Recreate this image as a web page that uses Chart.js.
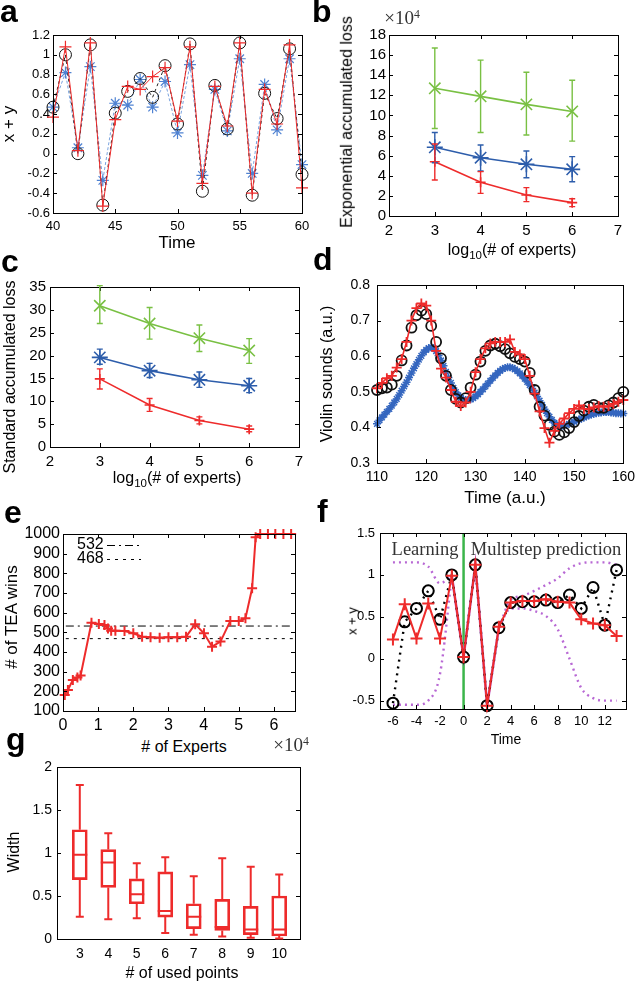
<!DOCTYPE html>
<html><head><meta charset="utf-8">
<script src="https://cdn.jsdelivr.net/npm/chart.js@4.4.1/dist/chart.umd.min.js"></script>
<style>
html,body{margin:0;padding:0;background:#fff}
body{width:640px;height:983px;position:relative;overflow:hidden;font-family:"Liberation Sans",Arial,Helvetica,sans-serif}
canvas{position:absolute}
.t{position:absolute;white-space:nowrap;line-height:1.15;color:#000}
.L{position:absolute;font-weight:bold;font-size:32px;line-height:1;color:#000}
.s{font-family:"Liberation Serif","Times New Roman",serif}
</style></head><body>
<script>
// ---------------- DATA ----------------
// Panel a
const aTime = [40,41,42,43,44,45,46,47,48,49,50,51,52,53,54,55,56,57,58,59,60];
const aTrue = [0.47,1.00,0.00,1.10,-0.52,0.41,0.63,0.76,0.57,0.89,0.30,1.11,-0.38,0.69,0.25,1.12,-0.42,0.61,0.355,1.06,-0.21];
const aTEA  = [0.37,1.08,0.03,1.12,-0.53,0.345,0.68,0.65,0.78,0.87,0.33,1.08,-0.30,0.68,0.28,1.12,-0.40,0.65,0.30,1.10,-0.345];
const aAlt  = [0.47,0.82,0.06,0.88,-0.27,0.51,0.49,0.75,0.47,0.73,0.21,0.90,-0.22,0.65,0.23,0.96,-0.20,0.70,0.24,0.96,-0.11];
// Panel b (x10^4)
const bLogExperts = [3,4,5,6];
const bGreen = [12.7,11.9,11.1,10.4], bGreenLo = [8.7,8.3,8.05,7.45], bGreenHi = [16.7,15.5,14.3,13.5];
const bBlue  = [6.83,5.8,5.14,4.64],  bBlueLo  = [5.3,4.47,3.81,3.41],  bBlueHi  = [8.3,7.06,6.46,5.9];
const bRed   = [5.4,3.35,2.09,1.33],  bRedLo   = [3.58,2.25,1.43,0.93], bRedHi   = [7.16,4.41,2.82,1.72];
// Panel c
const cLogExperts = [3,4,5,6];
const cGreen = [30.9,27.0,23.8,21.1], cGreenLo = [27.0,23.6,20.9,18.3], cGreenHi = [35.3,30.5,26.7,23.7];
const cBlue  = [19.6,16.7,14.7,13.4], cBlueLo  = [18.1,15.2,13.05,11.9], cBlueHi = [21.4,18.3,16.4,15.0];
const cRed   = [14.9,9.2,5.8,3.9],    cRedLo   = [12.7,7.8,5.05,3.35],   cRedHi  = [17.1,10.6,6.6,4.6];
// Panel d
const dTime = [110,111,112,113,114,115,116,117,118,119,120,121,122,123,124,125,126,127,128,129,130,131,132,133,134,135,136,137,138,139,140,141,142,143,144,145,146,147,148,149,150,151,152,153,154,155,156,157,158,159,160];
const dTrue = [0.505,0.510,0.512,0.520,0.545,0.588,0.630,0.680,0.715,0.728,0.718,0.685,0.640,0.594,0.545,0.505,0.480,0.470,0.482,0.512,0.548,0.585,0.615,0.630,0.635,0.628,0.620,0.608,0.598,0.592,0.585,0.553,0.505,0.458,0.433,0.407,0.388,0.379,0.386,0.398,0.415,0.432,0.447,0.458,0.463,0.455,0.455,0.462,0.470,0.482,0.500];
const dTEA  = [0.510,0.525,0.538,0.545,0.568,0.592,0.640,0.700,0.735,0.748,0.742,0.700,0.615,0.565,0.540,0.505,0.472,0.460,0.470,0.500,0.555,0.592,0.622,0.636,0.640,0.640,0.640,0.647,0.612,0.605,0.592,0.545,0.495,0.445,0.398,0.357,0.390,0.410,0.425,0.440,0.452,0.462,0.452,0.452,0.456,0.460,0.458,0.460,0.466,0.472,0.477];
const dTimeFine = [110,110.5,111,111.5,112,112.5,113,113.5,114,114.5,115,115.5,116,116.5,117,117.5,118,118.5,119,119.5,120,120.5,121,121.5,122,122.5,123,123.5,124,124.5,125,125.5,126,126.5,127,127.5,128,128.5,129,129.5,130,130.5,131,131.5,132,132.5,133,133.5,134,134.5,135,135.5,136,136.5,137,137.5,138,138.5,139,139.5,140,140.5,141,141.5,142,142.5,143,143.5,144,144.5,145,145.5,146,146.5,147,147.5,148,148.5,149,149.5,150,150.5,151,151.5,152,152.5,153,153.5,154,154.5,155,155.5,156,156.5,157,157.5,158,158.5,159,159.5,160];
const dAlt = [0.410,0.420,0.428,0.436,0.444,0.452,0.461,0.470,0.480,0.491,
0.503,0.515,0.527,0.540,0.553,0.566,0.578,0.590,0.601,0.611,
0.618,0.623,0.625,0.622,0.614,0.602,0.588,0.573,0.556,0.540,
0.525,0.511,0.499,0.490,0.483,0.479,0.477,0.477,0.479,0.482,
0.487,0.493,0.500,0.507,0.515,0.523,0.531,0.539,0.546,0.553,
0.559,0.564,0.567,0.569,0.569,0.567,0.563,0.558,0.552,0.545,
0.537,0.528,0.519,0.509,0.498,0.487,0.475,0.463,0.451,0.440,
0.430,0.421,0.413,0.407,0.404,0.403,0.404,0.407,0.410,0.413,
0.416,0.419,0.422,0.425,0.428,0.431,0.434,0.436,0.438,0.440,
0.441,0.442,0.443,0.443,0.443,0.442,0.441,0.440,0.440,0.439,
0.439];
// Panel e (# of experts in units of 10^4)
const eExperts = [0.05,0.14,0.28,0.41,0.50,0.81,1.02,1.18,1.28,1.37,1.49,1.75,2.0,2.25,2.49,2.75,3.0,3.25,3.5,3.76,4.01,4.24,4.48,4.76,5.0,5.19,5.38,5.48,5.61,5.83,6.04,6.27,6.49];
const eWins    = [181,207,258,270,280,549,542,537,520,508,508,507,495,478,475,473,475,475,478,541,495,427,453,558,558,571,724,983,1000,1000,1000,1000,1000];
const eRefValues = [532,468];
const eRefLabels = ['532','468'];
// Panel f
const fTime  = [-6,-5,-4,-3,-2,-1,0,1,2,3,4,5,6,7,8,9,10,11,12,13];
const fTrue  = [-0.53,0.44,0.60,0.81,0.47,1.00,0.02,1.12,-0.56,0.37,0.67,0.68,0.68,0.70,0.67,0.76,0.60,0.85,0.40,1.06];
const fPred  = [0.23,0.65,0.24,0.66,0.24,0.99,0.02,1.12,-0.56,0.38,0.67,0.69,0.69,0.71,0.68,0.67,0.47,0.42,0.40,0.27];
const fUpper = [1.15,1.15,1.15,1.10,0.90,0.99,0.02,1.12,-0.56,0.37,0.70,0.75,0.81,0.88,0.96,1.08,1.14,1.15,1.15,1.12];
const fLower = [-0.55,-0.55,-0.55,-0.50,-0.18,0.99,0.02,1.12,-0.56,0.37,0.60,0.60,0.57,0.51,0.35,0.00,-0.35,-0.47,-0.50,-0.50];
const fSplitTime = 0;
// Panel g
const gPoints  = [3,4,5,6,7,8,9,10];
const gWhiskHi = [1.79,1.23,0.88,0.95,0.73,0.94,0.84,0.75];
const gQ3      = [1.27,1.04,0.70,0.78,0.41,0.46,0.38,0.50];
const gMedian  = [0.98,0.89,0.52,0.325,0.26,0.14,0.11,0.11];
const gQ1      = [0.69,0.60,0.41,0.255,0.12,0.10,0.05,0.035];
const gWhiskLo = [0.26,0.23,0.24,0.07,0.05,0.03,0.015,0.005];

// ---------------- SETUP ----------------
Chart.defaults.font.family = '"Liberation Sans", Arial, Helvetica, sans-serif';
Chart.defaults.color = '#000';
Chart.defaults.animation = false;

const RED = '#ee2b2b', GREEN = '#79c043', BLUE = '#2d5dab';

const framePlugin = {
  id: 'frame',
  afterDatasetsDraw(chart, args, opts) {
    const ctx = chart.ctx, a = chart.chartArea;
    const len = opts.len == null ? 4 : opts.len;
    const xs = chart.scales.x, ys = chart.scales.y;
    ctx.save();
    ctx.strokeStyle = '#000'; ctx.lineWidth = 1;
    ctx.beginPath();
    if (opts.xTicks !== false) xs.ticks.forEach(t => {
      const p = Math.round(xs.getPixelForValue(t.value)) + 0.5;
      ctx.moveTo(p, a.bottom); ctx.lineTo(p, a.bottom - len);
      ctx.moveTo(p, a.top); ctx.lineTo(p, a.top + len);
    });
    if (opts.yTicks !== false) ys.ticks.forEach(t => {
      const p = Math.round(ys.getPixelForValue(t.value)) + 0.5;
      ctx.moveTo(a.left, p); ctx.lineTo(a.left + len, p);
      ctx.moveTo(a.right, p); ctx.lineTo(a.right - len, p);
    });
    ctx.stroke();
    ctx.strokeRect(Math.round(a.left) + 0.5, Math.round(a.top) + 0.5, Math.round(a.right - a.left), Math.round(a.bottom - a.top));
    ctx.restore();
  }
};
const errPlugin = {
  id: 'errbars',
  afterDatasetsDraw(chart) {
    const ctx = chart.ctx, ys = chart.scales.y;
    chart.data.datasets.forEach((ds, di) => {
      if (!ds.errLo) return;
      const meta = chart.getDatasetMeta(di);
      ctx.save(); ctx.strokeStyle = ds.borderColor; ctx.lineWidth = 1.4; ctx.beginPath();
      meta.data.forEach((pt, i) => {
        const x = pt.x, y1 = ys.getPixelForValue(ds.errLo[i]), y2 = ys.getPixelForValue(ds.errHi[i]);
        ctx.moveTo(x, y1); ctx.lineTo(x, y2);
        ctx.moveTo(x - 3, y1); ctx.lineTo(x + 3, y1);
        ctx.moveTo(x - 3, y2); ctx.lineTo(x + 3, y2);
      });
      ctx.stroke(); ctx.restore();
    });
  }
};
const boxPlugin = {
  id: 'boxwhisk',
  afterDatasetsDraw(chart) {
    const ctx = chart.ctx, ys = chart.scales.y;
    chart.data.datasets.forEach((ds, di) => {
      if (!ds.whiskHi) return;
      const meta = chart.getDatasetMeta(di);
      ctx.save(); ctx.strokeStyle = ds.borderColor; ctx.lineWidth = 2; ctx.beginPath();
      meta.data.forEach((bar, i) => {
        const x = bar.x, hw = bar.width / 2, cw = 4;
        const yq1 = ys.getPixelForValue(ds.q1[i]), yq3 = ys.getPixelForValue(ds.q3[i]);
        const yhi = ys.getPixelForValue(ds.whiskHi[i]), ylo = ys.getPixelForValue(ds.whiskLo[i]);
        const ym = ys.getPixelForValue(ds.med[i]);
        ctx.moveTo(x, yq3); ctx.lineTo(x, yhi); ctx.moveTo(x - cw, yhi); ctx.lineTo(x + cw, yhi);
        ctx.moveTo(x, yq1); ctx.lineTo(x, ylo); ctx.moveTo(x - cw, ylo); ctx.lineTo(x + cw, ylo);
        ctx.moveTo(x - hw, ym); ctx.lineTo(x + hw, ym);
      });
      ctx.stroke(); ctx.restore();
    });
  }
};
Chart.register(framePlugin, errPlugin, boxPlugin);

const fmt = v => String(+(+v).toFixed(3));
function axis(min, max, step, fs, pad, extra) {
  return Object.assign({
    type: 'linear', min, max,
    grid: { display: false, drawTicks: false }, border: { display: false },
    ticks: { stepSize: step, font: { size: fs }, padding: pad, color: '#000', maxRotation: 0, minRotation: 0, autoSkip: false, includeBounds: false, callback: fmt }
  }, extra || {});
}
function mk(box, config, frameOpts) {
  const pad = 16, yw = box.yw || 45, xh = 26;
  const c = document.createElement('canvas');
  const W = box.R - box.L + yw + pad, H = box.B - box.T + pad + xh;
  c.width = W; c.height = H;
  c.style.left = (box.L - yw) + 'px'; c.style.top = (box.T - pad) + 'px';
  c.style.width = W + 'px'; c.style.height = H + 'px';
  document.body.appendChild(c);
  const o = config.options;
  o.responsive = false; o.animation = false; o.maintainAspectRatio = false;
  o.layout = { padding: { top: pad, right: pad, left: 0, bottom: 0 } };
  o.scales.x.afterFit = s => { s.height = xh; };
  o.scales.y.afterFit = s => { s.width = yw; };
  o.plugins = Object.assign({ legend: { display: false }, tooltip: { enabled: false }, frame: frameOpts || {} }, o.plugins || {});
  return new Chart(c, config);
}
const pts = (xs, ys) => xs.map((x, i) => ({ x, y: ys[i] }));
function txt(html, cx, cy, size, rot, cls, color) {
  const d = document.createElement('div');
  d.className = 't' + (cls ? ' ' + cls : '');
  d.innerHTML = html;
  d.style.fontSize = size + 'px';
  d.style.left = cx + 'px'; d.style.top = cy + 'px';
  if (color) d.style.color = color;
  d.style.transform = 'translate(-50%,-50%)' + (rot ? ' rotate(-90deg)' : '');
  document.body.appendChild(d);
}
function letter(ch, x, baseline) {
  const d = document.createElement('div');
  d.className = 'L'; d.textContent = ch;
  d.style.left = x + 'px'; d.style.top = (baseline - 27.1) + 'px';
  document.body.appendChild(d);
}
const SUB10 = 'log<span style="font-size:0.72em;position:relative;top:0.35em">10</span>(# of experts)';
const X104 = '&times;10<span style="font-size:0.62em;position:relative;top:-0.55em">4</span>';

// ---------------- PANEL a ----------------
mk({ L: 53, T: 35, R: 302, B: 213, yw: 50 }, {
  type: 'line',
  data: { datasets: [
    { label: 'TEA', data: pts(aTime, aTEA), borderColor: RED, borderWidth: 1, pointStyle: 'cross', pointRadius: 6, pointBorderWidth: 1.2, pointBorderColor: RED, fill: false, tension: 0, order: 0, clip: false },
    { label: 'True', data: pts(aTime, aTrue), borderColor: '#222', borderWidth: 1, borderDash: [3, 3], pointStyle: 'circle', pointRadius: 6, pointBorderWidth: 1, pointBorderColor: '#111', pointBackgroundColor: 'rgba(0,0,0,0)', fill: false, tension: 0, order: 1, clip: false },
    { label: 'Other', data: pts(aTime, aAlt), borderColor: '#7aa3df', borderWidth: 1, borderDash: [3, 2], pointStyle: 'star', pointRadius: 6, pointBorderWidth: 1.2, pointBorderColor: '#4f82d2', fill: false, tension: 0, order: 2, clip: false }
  ] },
  options: { scales: { x: axis(40, 60, 5, 13, 6), y: axis(-0.6, 1.2, 0.2, 13, 3) } }
});
letter('a', 0, 22);
txt('Time', 177, 243, 17);
txt('x + y', 9, 124, 17, true);

// ---------------- PANEL b ----------------
function lossSets(xs, g, gl, gh, b, bl, bh, r, rl, rh) {
  return [
    { label: 'Green', data: pts(xs, g), errLo: gl, errHi: gh, borderColor: GREEN, borderWidth: 1.6, pointStyle: 'crossRot', pointRadius: 8, pointBorderWidth: 1.6, pointBorderColor: GREEN, tension: 0, clip: false },
    { label: 'Blue', data: pts(xs, b), errLo: bl, errHi: bh, borderColor: BLUE, borderWidth: 1.6, pointStyle: 'star', pointRadius: 8, pointBorderWidth: 1.6, pointBorderColor: BLUE, tension: 0, clip: false },
    { label: 'Red', data: pts(xs, r), errLo: rl, errHi: rh, borderColor: RED, borderWidth: 1.6, pointStyle: 'cross', pointRadius: 5, pointBorderWidth: 1.6, pointBorderColor: RED, tension: 0, clip: false }
  ];
}
mk({ L: 389, T: 35, R: 618, B: 216, yw: 40 }, {
  type: 'line',
  data: { datasets: lossSets(bLogExperts, bGreen, bGreenLo, bGreenHi, bBlue, bBlueLo, bBlueHi, bRed, bRedLo, bRedHi) },
  options: { scales: { x: axis(2, 7, 1, 15, 6), y: axis(0, 18, 2, 15, 3) } }
});
letter('b', 312, 22);
txt(X104, 402, 18, 19, false, 's', '#333');
txt(SUB10, 512, 250, 16);
txt('Exponential accumulated loss', 347, 122, 16, true);

// ---------------- PANEL c ----------------
mk({ L: 50, T: 287, R: 299, B: 447, yw: 45 }, {
  type: 'line',
  data: { datasets: lossSets(cLogExperts, cGreen, cGreenLo, cGreenHi, cBlue, cBlueLo, cBlueHi, cRed, cRedLo, cRedHi) },
  options: { scales: { x: axis(2, 7, 1, 15, 6), y: axis(0, 35, 5, 15, 4) } }
});
letter('c', 1, 272);
txt(SUB10, 177, 478, 16);
txt('Standard accumulated loss', 10, 377, 16, true);

// ---------------- PANEL d ----------------
mk({ L: 377, T: 285, R: 625, B: 463, yw: 45 }, {
  type: 'line',
  data: { datasets: [
    { label: 'TEA', data: pts(dTime, dTEA), borderColor: RED, borderWidth: 1.6, pointStyle: 'cross', pointRadius: 5, pointBorderWidth: 1.8, pointBorderColor: RED, tension: 0, order: 0, clip: false },
    { label: 'True', data: pts(dTime, dTrue), showLine: false, pointStyle: 'circle', pointRadius: 5, pointBorderWidth: 1.8, pointBorderColor: '#111', pointBackgroundColor: 'rgba(0,0,0,0)', order: 1, clip: false },
    { label: 'Other', data: pts(dTimeFine, dAlt), showLine: false, pointStyle: 'star', pointRadius: 4, pointBorderWidth: 1.5, pointBorderColor: '#3466bf', order: 2, clip: false }
  ] },
  options: { scales: { x: axis(110, 160, 10, 14, 6), y: axis(0.3, 0.8, 0.1, 14, 7, {}) } }
});
letter('d', 313, 270);
txt('Time (a.u.)', 505, 498, 17);
txt('Violin sounds (a.u.)', 327, 374, 16, true);

// ---------------- PANEL e ----------------
const eLegend = {
  id: 'eLegend',
  afterDatasetsDraw(chart) {
    const ctx = chart.ctx, a = chart.chartArea;
    ctx.save();
    ctx.font = '16px "Liberation Sans", Arial, sans-serif';
    ctx.fillStyle = '#000'; ctx.textBaseline = 'middle'; ctx.textAlign = 'left';
    const dashes = [[8, 4, 2, 4], [3, 5]];
    eRefLabels.forEach((lab, i) => {
      const y = a.top + 11 + i * 14;
      ctx.fillText(lab, a.left + 14, y);
      ctx.setLineDash(dashes[i]); ctx.strokeStyle = '#000'; ctx.lineWidth = 1;
      ctx.beginPath(); ctx.moveTo(a.left + 44, y + 0.5); ctx.lineTo(a.left + 78, y + 0.5); ctx.stroke();
    });
    ctx.restore();
  }
};
mk({ L: 63, T: 534, R: 295, B: 711, yw: 55 }, {
  type: 'line',
  data: { datasets: [
    { label: 'TEA wins', data: pts(eExperts, eWins), borderColor: RED, borderWidth: 2, pointStyle: 'cross', pointRadius: 5, pointBorderWidth: 2, pointBorderColor: RED, tension: 0, order: 0, clip: false },
    { label: eRefLabels[0], data: [{ x: 0.08, y: eRefValues[0] }, { x: 6.55, y: eRefValues[0] }], borderColor: '#000', borderWidth: 1, borderDash: [8, 4, 2, 4], pointRadius: 0, order: 1 },
    { label: eRefLabels[1], data: [{ x: 0.08, y: eRefValues[1] }, { x: 6.55, y: eRefValues[1] }], borderColor: '#000', borderWidth: 1, borderDash: [3, 5], pointRadius: 0, order: 2 }
  ] },
  options: { scales: { x: axis(0, 6.6, 1, 16, 5), y: axis(100, 1000, 100, 16, 3) } },
  plugins: [eLegend]
});
letter('e', 4, 523);
txt('# of Experts', 184, 747, 16);
txt(X104, 291, 745, 19, false, 's', '#333');
txt('# of TEA wins', 12, 617, 17, true);

// ---------------- PANEL f ----------------
const PURPLE = '#b868d4';
const sl = (arr, a, b) => arr.slice(a, b + 1);
const iL = fTime.indexOf(-1), iR = fTime.indexOf(3);
const dotted = { borderColor: PURPLE, borderWidth: 2.4, borderDash: [2, 4], pointRadius: 0, cubicInterpolationMode: 'monotone', order: 5 };
mk({ L: 380, T: 533, R: 626, B: 709, yw: 45 }, {
  type: 'line',
  data: { datasets: [
    { label: 'TEA', data: pts(fTime, fPred), borderColor: RED, borderWidth: 2, pointStyle: 'cross', pointRadius: 6, pointBorderWidth: 2, pointBorderColor: RED, tension: 0, order: 0, clip: false },
    { label: 'True', data: pts(fTime, fTrue), borderColor: '#000', borderWidth: 2.4, borderDash: [2, 5], pointStyle: 'circle', pointRadius: 5.5, pointBorderWidth: 2, pointBorderColor: '#000', pointBackgroundColor: 'rgba(0,0,0,0)', tension: 0, order: 1, clip: false },
    Object.assign({ label: 'Upper L', data: pts(sl(fTime, 0, iL), sl(fUpper, 0, iL)) }, dotted),
    Object.assign({ label: 'Upper R', data: pts(sl(fTime, iR, fTime.length - 1), sl(fUpper, iR, fTime.length - 1)) }, dotted),
    Object.assign({ label: 'Lower L', data: pts(sl(fTime, 0, iL), sl(fLower, 0, iL)) }, dotted),
    Object.assign({ label: 'Lower R', data: pts(sl(fTime, iR, fTime.length - 1), sl(fLower, iR, fTime.length - 1)) }, dotted),
    { label: 'Band mid', data: pts(sl(fTime, iL, iR), sl(fUpper, iL, iR)), borderColor: PURPLE, borderWidth: 2.6, pointRadius: 0, tension: 0, order: 4 },
    { label: 'Split', data: [{ x: fSplitTime, y: -0.6 }, { x: fSplitTime, y: 1.5 }], borderColor: '#3bb54a', borderWidth: 2.5, pointRadius: 0, order: 6 }
  ] },
  options: { scales: { x: axis(-7.1, 13.8, 2, 13, 5), y: axis(-0.6, 1.5, 0.5, 13, 5) } }
});
letter('f', 317, 522);
txt('Learning', 425, 550, 18.5, false, 's', '#333');
txt('Multistep prediction', 546, 550, 18.5, false, 's', '#333');
txt('Time', 506, 739, 14);
txt('x + y', 353, 621, 13, true);

// ---------------- PANEL g ----------------
mk({ L: 57, T: 767, R: 300, B: 939, yw: 50 }, {
  type: 'bar',
  data: { datasets: [
    { label: 'Width', data: gPoints.map((x, i) => ({ x, y: [gQ1[i], gQ3[i]] })),
      q1: gQ1, q3: gQ3, med: gMedian, whiskHi: gWhiskHi, whiskLo: gWhiskLo,
      backgroundColor: 'rgba(0,0,0,0)', borderColor: RED, borderWidth: 2, borderSkipped: false, barThickness: 15 }
  ] },
  options: { scales: { x: axis(2.2, 10.73, 1, 14, 7, { offset: false }), y: axis(0, 2, 0.5, 14, 5) } }
}, { xTicks: false });
letter('g', 6, 750);
txt('# of used points', 182, 973, 16);
txt('Width', 14, 852, 16, true);
</script>
</body></html>
